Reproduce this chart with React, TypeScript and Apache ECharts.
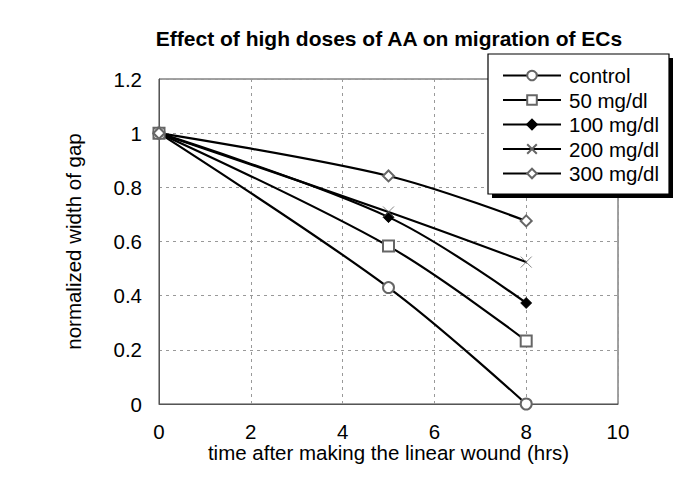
import React, { useEffect, useRef } from "react";
import * as echarts from "echarts";

const times = [0, 5, 8];
const seriesNames = ["control", "50 mg/dl", "100 mg/dl", "200 mg/dl", "300 mg/dl"];
const control = [1, 0.43, 0];
const mg50 = [1, 0.583, 0.233];
const mg100 = [1, 0.69, 0.373];
const mg200 = [1, 0.709, 0.524];
const mg300 = [1, 0.842, 0.676];
const xTicks = [0, 2, 4, 6, 8, 10];
const yTicks = [0, 0.2, 0.4, 0.6, 0.8, 1, 1.2];

const FONT = "Liberation Sans, Arial, Helvetica, sans-serif";
const crossPath = "path://M0,0L10,10M10,0L0,10";

export default function App() {
  const ref = useRef<HTMLDivElement>(null);
  useEffect(() => {
    const chart = echarts.init(ref.current!, null, { renderer: "svg" });
    const vals = [control, mg50, mg100, mg200, mg300];
    const symbols = ["emptyCircle", "emptyRect", "diamond", crossPath, "emptyDiamond"];
    const symColors = ["#666", "#666", "#000", "#666", "#666"];
    const series = seriesNames.map((name, i) => ({
      name,
      type: "line",
      data: times.map((t, j) => [t, vals[i][j]]),
      smooth: 0.35,
      symbol: symbols[i],
      symbolSize: 11,
      showAllSymbol: true,
      lineStyle: { color: "#000", width: 2.2 },
      itemStyle: {
        color: symColors[i],
        borderColor: symColors[i],
        borderWidth: 0.8,
      },
      z: 3,
    }));
    chart.setOption({
      animation: false,
      backgroundColor: "#fff",
      title: {
        text: "Effect of high doses of AA on migration of ECs",
        left: 384,
        textAlign: "center",
        top: 23,
        textStyle: { fontFamily: FONT, fontSize: 21, fontWeight: "bold", color: "#000" },
      },
      grid: {
        left: 159,
        right: 67,
        top: 79,
        bottom: 94,
        show: true,
        borderColor: "#444",
        borderWidth: 1,
      },
      xAxis: {
        type: "value",
        min: 0,
        max: 10,
        interval: 2,
        name: "time after making the linear wound (hrs)",
        nameLocation: "middle",
        nameGap: 38,
        nameMoveOverlap: false,
        nameTextStyle: { fontFamily: FONT, fontSize: 20.5, color: "#000" },
        axisLine: { show: true, lineStyle: { color: "#555" } },
        axisTick: { show: false },
        axisLabel: {
          fontFamily: FONT,
          fontSize: 20.5,
          color: "#000",
          margin: 17,
          formatter: (v: number) => (xTicks.includes(v) ? String(v) : ""),
        },
        splitLine: { show: true, lineStyle: { color: "#999", type: [3, 4], width: 1 } },
      },
      yAxis: {
        type: "value",
        min: 0,
        max: 1.2,
        interval: 0.2,
        name: "normalized width of gap",
        nameLocation: "middle",
        nameGap: 75,
        nameMoveOverlap: false,
        nameTextStyle: { fontFamily: FONT, fontSize: 20.5, color: "#000" },
        axisLine: { show: true, lineStyle: { color: "#555" } },
        axisTick: { show: false },
        axisLabel: {
          fontFamily: FONT,
          fontSize: 20.5,
          color: "#000",
          margin: 17,
          formatter: (v: number) => {
            const r = Math.round(v * 10) / 10;
            return yTicks.some((t) => Math.abs(t - r) < 1e-6) ? String(r) : "";
          },
        },
        splitLine: { show: true, lineStyle: { color: "#999", type: [3, 4], width: 1 } },
      },
      graphic: [
        { type: "rect", shape: { x: 492, y: 58, width: 181, height: 140 }, style: { fill: "#000" }, z: 10 },
        {
          type: "rect",
          shape: { x: 488, y: 54, width: 181, height: 140 },
          style: { fill: "#fff", stroke: "#000", lineWidth: 1.2 },
          z: 11,
        },
      ],
      legend: {
        orient: "vertical",
        left: 502,
        top: 65,
        padding: 0,
        itemWidth: 58,
        itemHeight: 12,
        itemGap: 3.5,
        z: 20,
        textStyle: { fontFamily: FONT, fontSize: 20.5, lineHeight: 21, color: "#000", padding: [0, 0, 0, 3] },
        data: seriesNames,
      },
      series,
    });
    return () => chart.dispose();
  }, []);
  return <div ref={ref} style={{ width: 685, height: 498, position: "absolute", left: 0, top: 0 }} />;
}
